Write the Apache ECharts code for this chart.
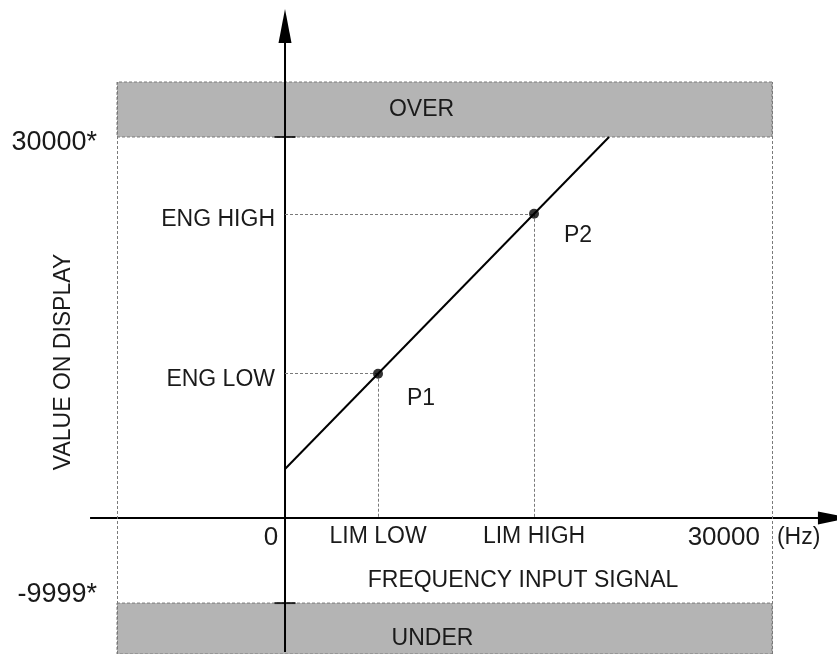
<!DOCTYPE html>
<html>
<head>
<meta charset="utf-8">
<script src="https://cdn.jsdelivr.net/npm/echarts@6/dist/echarts.min.js"></script>
<style>
html, body { margin: 0; padding: 0; background: #fff; }
#chart { width: 837px; height: 654px; }
</style>
</head>
<body>
<div id="chart"></div>
<script>
// schematic diagram, not to scale: the values only place the marks
var freqRange = [-10350, 30000];
var valueRange = [-10710, 34330];

var freqTicks = [0, 5730, 15340, 30000];
var freqLabels = ['0', 'LIM LOW', 'LIM HIGH', '30000'];
var limitTicks = [30000, -6700];
var limitLabels = ['30000*', '-9999*'];
var engTicks = [11360, 23950];
var engLabels = ['ENG LOW', 'ENG HIGH'];

var pointNames = ['P1', 'P2'];
var pointFreq = [5730, 15340];
var pointValue = [11360, 23950];

var lineFreq = [0, 19960];
var lineValue = [3860, 30000];

var bandNames = ['OVER', 'UNDER'];
var bandFrom = [30000, -6700];
var bandTo = [34330, -10710];

// the two drawn axes run past the grid: [x0, y0, x1 (arrow tip), y1]
var freqAxisLine = [-12010, 0, 34800, 0];
var valueAxisLine = [0, -10550, 0, 40080];

var font = 'Liberation Sans, Arial, sans-serif';
var ink = '#1a1a1a';
var dotted = { color: '#7a7a7a', width: 1, type: [3, 2] };

var chart = echarts.init(document.getElementById('chart'));

var guideLines = [];
pointFreq.forEach(function (f, i) {
    guideLines.push([{ coord: [0, pointValue[i]] }, { coord: [f, pointValue[i]] }]);
    guideLines.push([{ coord: [f, pointValue[i]] }, { coord: [f, 0] }]);
});

// axis line with a solid triangular head at its end
function renderArrow(params, api) {
    var a = api.coord([api.value(0), api.value(1)]);
    var b = api.coord([api.value(2), api.value(3)]);
    var dx = b[0] - a[0], dy = b[1] - a[1];
    var len = Math.sqrt(dx * dx + dy * dy);
    var ux = dx / len, uy = dy / len;
    var head = params.dataIndex === 0 ? 32 : 34, half = 6.5;
    var base = [b[0] - ux * head, b[1] - uy * head];
    return {
        type: 'group',
        children: [{
            type: 'line',
            shape: { x1: a[0], y1: a[1], x2: base[0] + ux * 2, y2: base[1] + uy * 2 },
            style: { stroke: '#000', lineWidth: 2 }
        }, {
            type: 'polygon',
            shape: { points: [b, [base[0] - uy * half, base[1] + ux * half], [base[0] + uy * half, base[1] - ux * half]] },
            style: { fill: '#000' }
        }]
    };
}

var option = {
    animation: false,
    backgroundColor: '#fff',
    textStyle: { fontFamily: font },
    grid: { left: 117, right: 65, top: 82, bottom: 0, outerBoundsMode: 'none' },
    xAxis: {
        type: 'value', min: freqRange[0], max: freqRange[1], position: 'bottom', offset: -136,
        axisLine: { show: false, onZero: false }, axisTick: { show: false }, splitLine: { show: false },
        name: 'FREQUENCY INPUT SIGNAL', nameLocation: 'middle', nameGap: 51, nameMoveOverlap: false,
        nameTextStyle: { fontSize: 23, color: ink, fontFamily: font, padding: [0, 0, 0, 157] },
        axisLabel: {
            customValues: freqTicks, margin: 7, color: ink, fontFamily: font,
            formatter: function (v) {
                var i = freqTicks.indexOf(v);
                if (i === 0) return '{zero|' + freqLabels[i] + '}';
                if (i === freqTicks.length - 1) return '{num|' + freqLabels[i] + '}{unit|(Hz)}';
                return '{txt|' + freqLabels[i] + '}';
            },
            rich: {
                zero: { fontSize: 26, color: ink, fontFamily: font, padding: [0, 28, 0, 0] },
                txt: { fontSize: 23, color: ink, fontFamily: font },
                num: { fontSize: 26, color: ink, fontFamily: font, padding: [0, 17, 0, 0] },
                unit: { fontSize: 23, color: ink, fontFamily: font, padding: [0, 36, 0, 0] }
            }
        }
    },
    yAxis: [{
        type: 'value', min: valueRange[0], max: valueRange[1], position: 'left',
        axisLine: { show: false, onZero: false }, axisTick: { show: false }, splitLine: { show: false },
        name: 'VALUE ON DISPLAY', nameLocation: 'middle', nameGap: 42, nameRotate: 90, nameMoveOverlap: false,
        nameTextStyle: { fontSize: 23, color: ink, fontFamily: font, padding: [0, 0, 0, 12] },
        axisLabel: {
            customValues: limitTicks, margin: 20, color: ink, fontFamily: font,
            formatter: function (v) {
                var i = limitTicks.indexOf(v);
                return (i === 0 ? '{hi|' : '{lo|') + limitLabels[i] + '}';
            },
            rich: {
                hi: { fontSize: 27, color: ink, fontFamily: font, padding: [12, 0, 0, 0] },
                lo: { fontSize: 27, color: ink, fontFamily: font, padding: [0, 0, 18, 0] }
            }
        }
    }, {
        type: 'value', min: valueRange[0], max: valueRange[1], position: 'left', offset: -168,
        axisLine: { show: false, onZero: false }, axisTick: { show: false }, splitLine: { show: false },
        axisLabel: {
            customValues: engTicks, margin: 10, color: ink, fontFamily: font,
            formatter: function (v) { return '{e|' + engLabels[engTicks.indexOf(v)] + '}'; },
            rich: {
                e: { fontSize: 23, color: ink, fontFamily: font, padding: [12, 0, 0, 0] }
            }
        }
    }],
    series: [{
        name: 'bands', type: 'line', data: [], silent: true,
        markArea: {
            silent: true,
            itemStyle: { color: '#b4b4b4', borderColor: '#7a7a7a', borderWidth: 1, borderType: [3, 2] },
            label: { show: true, position: 'inside', fontSize: 23, color: ink, fontFamily: font },
            data: bandNames.map(function (n, i) {
                return [{ name: n, yAxis: bandFrom[i], label: { offset: i === 0 ? [-23, 0] : [-12, 10] } },
                        { yAxis: bandTo[i] }];
            })
        },
        markLine: {
            silent: true, symbol: ['none', 'none'], label: { show: false },
            lineStyle: dotted,
            data: [{ xAxis: freqRange[0] }, { xAxis: freqRange[1] }]
        }
    }, {
        name: 'guides', type: 'line', data: [], silent: true,
        markLine: {
            silent: true, symbol: ['none', 'none'], label: { show: false },
            lineStyle: dotted, data: guideLines
        }
    }, {
        name: 'axes', type: 'custom', silent: true, z: 4, clip: false,
        renderItem: renderArrow,
        encode: { x: [0, 2], y: [1, 3] },
        data: [freqAxisLine, valueAxisLine]
    }, {
        name: 'limit ticks', type: 'scatter', silent: true, z: 4,
        symbol: 'rect', symbolSize: [21, 2], itemStyle: { color: '#000' },
        data: limitTicks.map(function (v) { return [0, v]; })
    }, {
        name: 'transfer', type: 'line', silent: true, z: 5, symbol: 'none',
        lineStyle: { color: '#000', width: 2 },
        data: lineFreq.map(function (f, i) { return [f, lineValue[i]]; })
    }, {
        name: 'points', type: 'scatter', silent: true, z: 6,
        symbolSize: 10, itemStyle: { color: '#000' },
        label: { show: true, fontSize: 23, color: ink, fontFamily: font, formatter: '{b}',
                 textBorderWidth: 0, opacity: 1 },
        data: pointNames.map(function (n, i) {
            return { name: n, value: [pointFreq[i], pointValue[i]],
                     label: { position: i === 0 ? [34, 18] : [35, 15], color: ink, textBorderWidth: 0 } };
        })
    }]
};

chart.setOption(option);
</script>
</body>
</html>
